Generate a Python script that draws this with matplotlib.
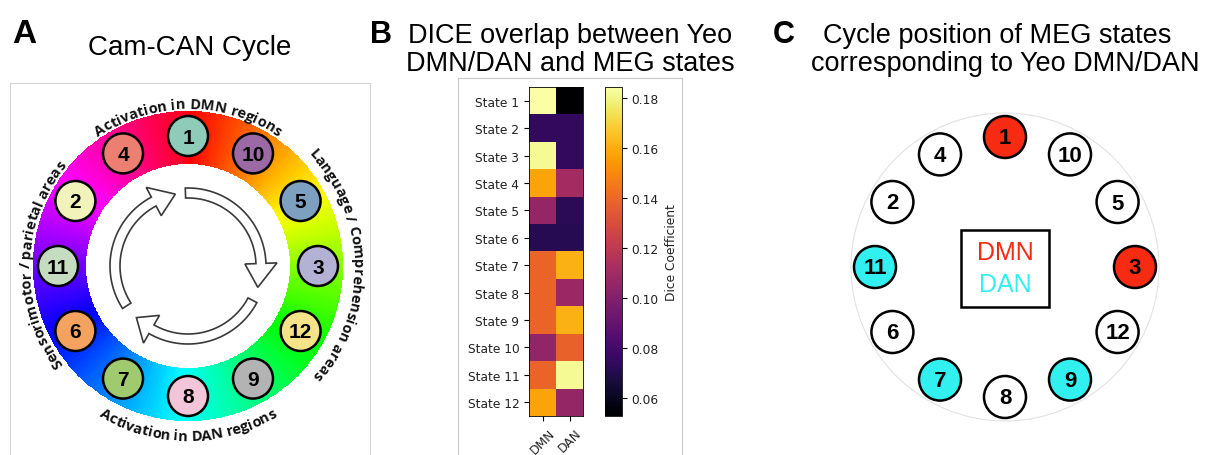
import numpy as np
import matplotlib

matplotlib.use("Agg")
import matplotlib.pyplot as plt
from matplotlib.patches import Circle, Polygon, Rectangle
from matplotlib.font_manager import FontProperties, findfont, get_font
from matplotlib.ft2font import LoadFlags

W, H = 1208, 456

# panel B data: DICE overlap of each MEG state with Yeo DMN / DAN
states = [f"State {i}" for i in range(1, 13)]
networks = ["DMN", "DAN"]
dmn_dice = [0.184, 0.075, 0.182, 0.158, 0.106, 0.072, 0.139, 0.139, 0.139, 0.105, 0.139, 0.158]
dan_dice = [0.053, 0.075, 0.075, 0.111, 0.073, 0.072, 0.161, 0.108, 0.161, 0.138, 0.182, 0.106]
cbar_ticks = [0.06, 0.08, 0.10, 0.12, 0.14, 0.16, 0.18]

# cycle: states clockwise from the top
cycle_order = [1, 10, 5, 3, 12, 9, 8, 7, 6, 11, 2, 4]
state_colors = {
    1: "#8ecbb9", 10: "#9b6aa5", 5: "#7d9fc0", 3: "#b4b2d4",
    12: "#f5e38a", 9: "#b3b3b3", 8: "#f2c6d8", 7: "#9fcb6e",
    6: "#f3a25f", 11: "#c5dcc0", 2: "#f2f2bb", 4: "#ec7f72",
}
dmn_states = [1, 3]
dan_states = [7, 9, 11]
dmn_color = "#f72a12"
dan_color = "#33f0f0"

arc_labels = [
    "Activation in DMN regions",
    "Language / Comprehension areas",
    "Activation in DAN regions",
    "Sensorimotor / parietal areas",
]

TITLE_FONT = "Liberation Sans"


def px_axes(fig, x0, y0, x1, y1):
    return fig.add_axes([x0 / W, 1 - y1 / H, (x1 - x0) / W, (y1 - y0) / H])


def fig_text(fig, x, y, s, **kw):
    fig.text(x / W, 1 - y / H, s, va="baseline", family=TITLE_FONT, **kw)


def arc_text(ax, text, center_deg, radius, inward=False, size=10.5):
    prop = FontProperties(family="Open Sans", weight="bold", size=size)
    font = get_font(findfont(prop))
    font.set_size(size, 100)
    glyphs = [font.load_char(ord(ch), flags=LoadFlags.NO_HINTING) for ch in text]
    adv = [g.linearHoriAdvance / 65536 for g in glyphs]
    total = sum(adv)
    sign = 1 if inward else -1
    theta0 = np.deg2rad(center_deg) - sign * total / radius / 2
    pos = 0.0
    for ch, g, a in zip(text, glyphs, adv):
        ink_mid = pos + g.horiBearingX / 64 + g.width / 128
        pos += a
        if ch == " ":
            continue
        th = theta0 + sign * ink_mid / radius
        rot = np.rad2deg(th) + (90 if inward else -90)
        ax.text(radius * np.cos(th), radius * np.sin(th), ch, fontproperties=prop,
                rotation=rot, rotation_mode="anchor", ha="center", va="baseline",
                color="#111111")


def cycle_arrow(ax, tail, base, tip, r_in=68, r_out=78, h_in=57, h_out=89):
    t = np.deg2rad(np.linspace(tail, base, 60))
    outer = np.column_stack([r_out * np.cos(t), r_out * np.sin(t)])
    inner = np.column_stack([r_in * np.cos(t[::-1]), r_in * np.sin(t[::-1])])
    b, tp = np.deg2rad(base), np.deg2rad(tip)
    rm = (r_in + r_out) / 2
    head = np.array([
        [h_out * np.cos(b), h_out * np.sin(b)],
        [rm * np.cos(tp), rm * np.sin(tp)],
        [h_in * np.cos(b), h_in * np.sin(b)],
    ])
    ax.add_patch(Polygon(np.vstack([outer, head, inner]), closed=True,
                         fc="white", ec="#3a3a3a", lw=1.2, zorder=3))


def state_circles(ax, colors, radius=130, size=20, fs=15):
    for k, s in enumerate(cycle_order):
        a = np.deg2rad(90 - 30 * k)
        x, y = radius * np.cos(a), radius * np.sin(a)
        ax.add_patch(Circle((x, y), size, fc=colors[s], ec="black", lw=1.8, zorder=4))
        ax.text(x, y - 1, str(s), ha="center", va="center", fontsize=fs,
                fontweight="bold", family=TITLE_FONT, zorder=5)


fig = plt.figure(figsize=(W / 100, H / 100), dpi=100)

# ---- panel A: Cam-CAN cycle
ax_a = px_axes(fig, 10, 84, 370, 456)
ax_a.set_xlim(-178, 182)
ax_a.set_ylim(-189, 183)
ax_a.set_xticks([])
ax_a.set_yticks([])
for side, sp in ax_a.spines.items():
    sp.set_color("#d4d4d4")
    sp.set_visible(side != "bottom")

theta = np.linspace(0, 2 * np.pi, 721)
rr = np.array([102, 155])
T, R = np.meshgrid(theta, rr)
mid = (theta[:-1] + theta[1:]) / 2
hue = ((np.pi / 2 - mid) % (2 * np.pi)) / (2 * np.pi)
ax_a.pcolormesh(R * np.cos(T), R * np.sin(T), hue[None, :], cmap="hsv",
                vmin=0, vmax=1, shading="flat", zorder=1)

for tail, base, tip in [(213, 118, 100), (92, 2, -17), (-28, -120, -135)]:
    cycle_arrow(ax_a, tail, base, tip)

state_circles(ax_a, state_colors)

arc_text(ax_a, arc_labels[0], 90, 158)
arc_text(ax_a, arc_labels[1], 1, 165)
arc_text(ax_a, arc_labels[2], -90, 174, inward=True)
arc_text(ax_a, arc_labels[3], 179, 158)

fig_text(fig, 12, 43, "A", fontsize=24, fontweight="bold")
fig_text(fig, 190, 55, "Cam-CAN Cycle", fontsize=20, ha="center")

# ---- panel B: DICE heatmap
ax_bf = px_axes(fig, 458, 79, 682, 456)
ax_bf.set_xticks([])
ax_bf.set_yticks([])
for side, sp in ax_bf.spines.items():
    sp.set_color("#c8c8c8")
    sp.set_visible(side != "bottom")

ax_h = px_axes(fig, 529, 88, 583, 417)
dice = np.column_stack([dmn_dice, dan_dice])
im = ax_h.imshow(dice, cmap="inferno", vmin=0.053, vmax=0.1845, aspect="auto")
ax_h.set_yticks(range(len(states)))
ax_h.set_yticklabels(states, fontsize=8.8, color="#222222")
ax_h.set_xticks(range(len(networks)))
ax_h.set_xticklabels(networks, fontsize=8.8, rotation=45, color="#222222")
for sp in ax_h.spines.values():
    sp.set_linewidth(0.6)

cax = px_axes(fig, 605, 88, 622, 417)
cbar = fig.colorbar(im, cax=cax)
cbar.set_ticks(cbar_ticks)
cbar.ax.tick_params(labelsize=8.8, labelcolor="#222222")
cbar.outline.set_linewidth(0.6)
cbar.set_label("Dice Coefficient", fontsize=8.8, color="#222222")

fig_text(fig, 370, 43, "B", fontsize=22, fontweight="bold")
fig_text(fig, 570, 43, "DICE overlap between Yeo", fontsize=19.5, ha="center")
fig_text(fig, 570, 71, "DMN/DAN and MEG states", fontsize=19.5, ha="center")

# ---- panel C: cycle positions of DMN / DAN states
ax_c = px_axes(fig, 800, 84, 1208, 456)
ax_c.set_xlim(-205, 203)
ax_c.set_ylim(-188, 184)
ax_c.axis("off")
ax_c.add_patch(Circle((0, 0), 154, fc="white", ec="#e2e2e2", lw=0.8))
c_colors = {s: "white" for s in cycle_order}
c_colors.update({s: dmn_color for s in dmn_states})
c_colors.update({s: dan_color for s in dan_states})
state_circles(ax_c, c_colors, size=21, fs=16)
ax_c.add_patch(Rectangle((-44, -40), 88, 77, fc="white", ec="black", lw=1.8))
ax_c.text(0, 15, "DMN", color=dmn_color, fontsize=18, ha="center", va="center", family=TITLE_FONT)
ax_c.text(0, -17, "DAN", color=dan_color, fontsize=18, ha="center", va="center", family=TITLE_FONT)

fig_text(fig, 773, 43, "C", fontsize=22, fontweight="bold")
fig_text(fig, 997, 43, "Cycle position of MEG states", fontsize=19.5, ha="center")
fig_text(fig, 1005, 71, "corresponding to Yeo DMN/DAN", fontsize=19.5, ha="center")

fig.savefig("out.png", dpi=100)
